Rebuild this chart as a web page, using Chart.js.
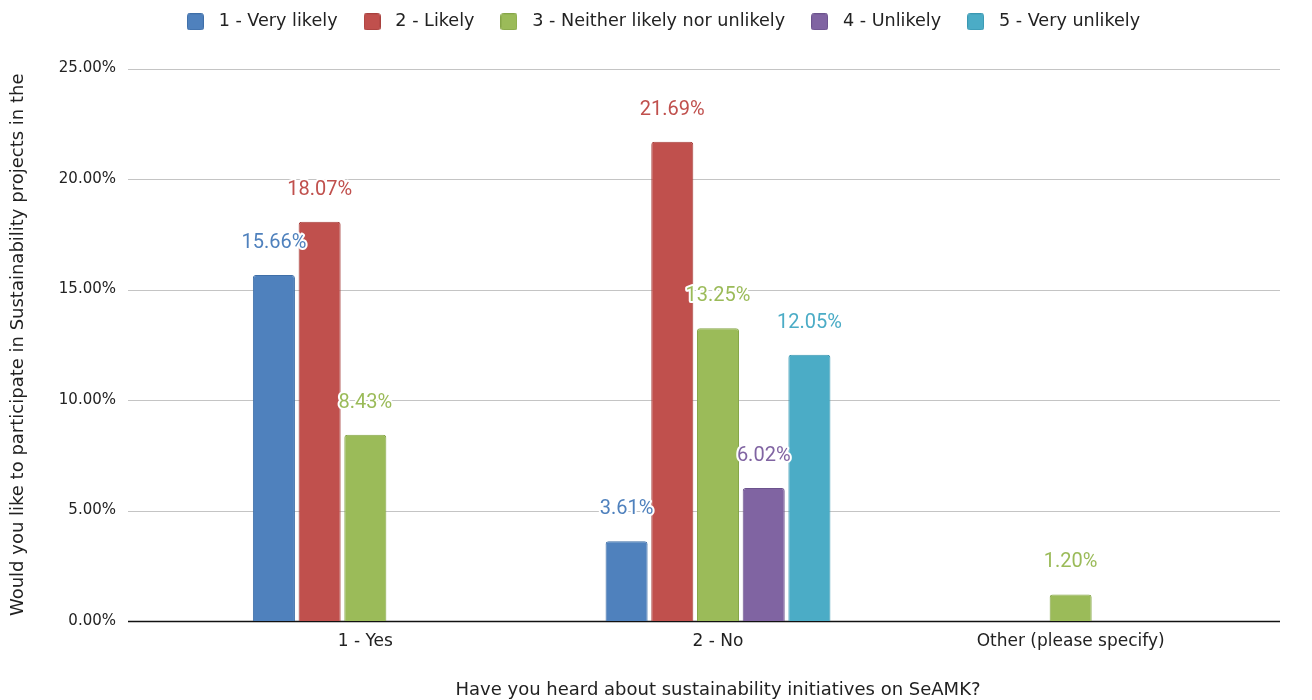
<!DOCTYPE html>
<html>
<head>
<meta charset="utf-8">
<script src="https://cdn.jsdelivr.net/npm/chart.js@4.4.1/dist/chart.umd.min.js"></script>
<style>
    html, body { margin: 0; padding: 0; background: #fff; }
    #wrap { width: 1312px; height: 700px; }
</style>
</head>
<body>
<div id="wrap"><canvas id="surveyChart"></canvas></div>
<script>
// ── data ──
const categories = ['1 - Yes', '2 - No', 'Other (please specify)'];
const seriesNames = ['1 - Very likely', '2 - Likely', '3 - Neither likely nor unlikely', '4 - Unlikely', '5 - Very unlikely'];
const veryLikely   = [15.66, 3.61, null];
const likely       = [18.07, 21.69, null];
const neither      = [8.43, 13.25, 1.20];
const unlikely     = [null, 6.02, null];
const veryUnlikely = [null, 12.05, null];
const yTickValues  = [0, 5, 10, 15, 20, 25];

// ── styles ──
const fills   = ['#4F81BD', '#C0504D', '#9BBB59', '#8064A2', '#4BACC6'];
const borders = ['#3F6FA8', '#A8413E', '#86A648', '#6C538D', '#3A98B2'];
const FONT = "'DejaVu Sans', sans-serif";
const textColor = '#222222';

const seriesData = [veryLikely, likely, neither, unlikely, veryUnlikely];

// small rounded square used as legend swatch
function makeSwatch(fill, stroke) {
    const c = document.createElement('canvas');
    c.width = 17;
    c.height = 17;
    const g = c.getContext('2d');
    g.beginPath();
    g.roundRect(0.5, 0.5, 16, 16, 2);
    g.fillStyle = fill;
    g.fill();
    g.strokeStyle = stroke;
    g.lineWidth = 1;
    g.stroke();
    return c;
}

// extra room under the legend, and centre it on the whole canvas
const legendGap = {
    id: 'legendGap',
    beforeLayout(chart) {
        const lg = chart.legend;
        if (lg && !lg._gapPatched) {
            const fit = lg.fit;
            lg.fit = function () {
                fit.call(this);
                this.height += 28;
            };
            lg._gapPatched = true;
        }
    },
    afterLayout(chart) {
        const lg = chart.legend;
        if (!lg) return;
        lg.left = 9;
        lg.right = chart.width;
    }
};

// gridlines run a bit wider than the plot area
const gridPlugin = {
    id: 'wideGrid',
    beforeDatasetsDraw(chart) {
        const { ctx, chartArea, scales } = chart;
        const x0 = chartArea.left - 61;
        const x1 = chartArea.right + 33;
        ctx.save();
        yTickValues.forEach(v => {
            const y = Math.round(scales.y.getPixelForValue(v)) + 0.5;
            ctx.beginPath();
            ctx.strokeStyle = v === 0 ? '#111111' : '#c4c4c4';
            ctx.lineWidth = v === 0 ? 1.5 : 1;
            ctx.moveTo(x0, y);
            ctx.lineTo(x1, y);
            ctx.stroke();
        });
        ctx.restore();
    }
};

// value labels above the bars, with white halo
const valueLabels = {
    id: 'valueLabels',
    afterDatasetsDraw(chart) {
        const { ctx } = chart;
        ctx.save();
        ctx.font = "20px Roboto, sans-serif";
        ctx.textAlign = 'center';
        ctx.textBaseline = 'middle';
        ctx.lineJoin = 'round';
        chart.data.datasets.forEach((ds, i) => {
            const meta = chart.getDatasetMeta(i);
            meta.data.forEach((bar, j) => {
                const v = ds.data[j];
                if (v == null) return;
                const txt = v.toFixed(2) + '%';
                const y = bar.y - 32;
                ctx.strokeStyle = '#ffffff';
                ctx.lineWidth = 4;
                ctx.strokeText(txt, bar.x, y);
                ctx.fillStyle = fills[i];
                ctx.fillText(txt, bar.x, y);
            });
        });
        ctx.restore();
    }
};

const ctx = document.getElementById('surveyChart');

new Chart(ctx.getContext('2d'), {
    type: 'bar',
    data: {
        labels: categories,
        datasets: seriesNames.map((name, i) => ({
            label: name,
            data: seriesData[i],
            backgroundColor: fills[i],
            borderColor: borders[i],
            borderWidth: 1,
            borderRadius: 3,
            borderSkipped: 'bottom',
            categoryPercentage: 0.648,
            barPercentage: 0.92,
            pointStyle: makeSwatch(fills[i], borders[i])
        }))
    },
    options: {
        responsive: true,
        maintainAspectRatio: false,
        animation: false,
        layout: { padding: { left: 4, right: 65, top: -7, bottom: -1 } },
        plugins: {
            legend: {
                position: 'top',
                labels: {
                    color: textColor,
                    font: { family: FONT, size: 17.6 },
                    usePointStyle: true,
                    pointStyleWidth: 29,
                    boxHeight: 17,
                    padding: 20
                }
            },
            tooltip: { enabled: false }
        },
        scales: {
            x: {
                grid: { display: false, drawTicks: false },
                border: { display: false },
                ticks: { color: textColor, font: { family: FONT, size: 17 }, padding: 10 },
                title: {
                    display: true,
                    text: 'Have you heard about sustainability initiatives on SeAMK?',
                    color: textColor,
                    font: { family: FONT, size: 18 },
                    padding: { top: 18, bottom: 0 }
                }
            },
            y: {
                min: 0,
                max: 25,
                afterFit(scale) {
                    // wide gutter for the labels, without the tick padding leaking into top/bottom
                    scale.width = 185;
                    scale.paddingTop = 10;
                    scale.paddingBottom = 10;
                },
                grid: { display: false, drawTicks: false },
                border: { display: false },
                ticks: {
                    stepSize: 5,
                    color: textColor,
                    font: { family: FONT, size: 15 },
                    padding: 73,
                    callback: v => v.toFixed(2) + '%'
                },
                title: {
                    display: true,
                    text: 'Would you like to participate in Sustainability projects in the',
                    color: textColor,
                    font: { family: FONT, size: 18 },
                    padding: { top: 4, bottom: 4 }
                }
            }
        }
    },
    plugins: [legendGap, gridPlugin, valueLabels]
});
</script>
</body>
</html>
